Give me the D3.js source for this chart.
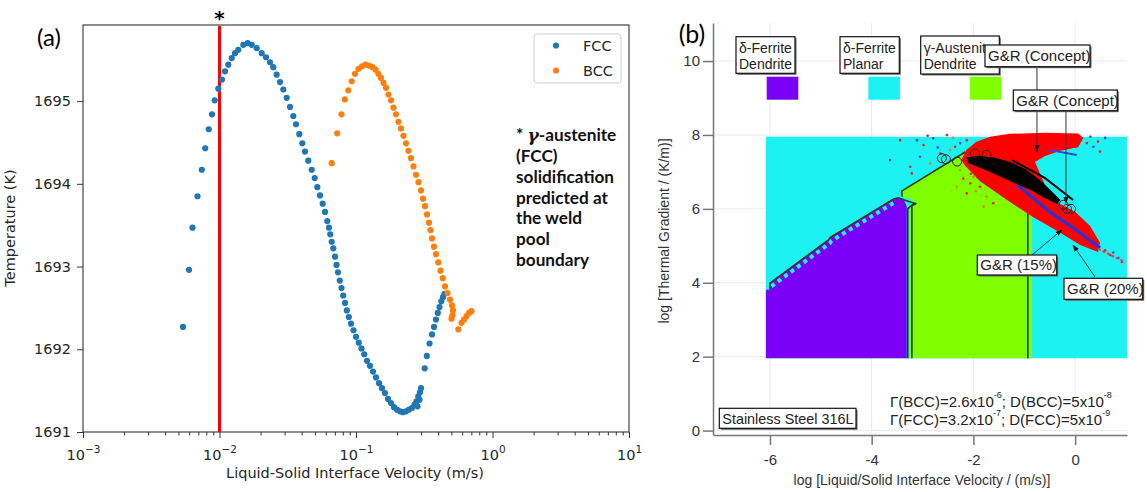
<!DOCTYPE html>
<html>
<head>
<meta charset="utf-8">
<script src="https://cdn.jsdelivr.net/npm/d3@7"></script>
<style>
  body { margin: 0; background: #fff; }
  svg { display: block; }
</style>
</head>
<body>
<div id="chart"></div>
<script>
// ---------- panel (a) data : velocity (m/s) and temperature (K) ----------
const fccVelocity = [0.0054, 0.00598, 0.00634, 0.0069, 0.00742, 0.00786, 0.00834, 0.00881, 0.00922, 0.0098,
  0.01043, 0.01097, 0.0116, 0.01229, 0.01299, 0.01373, 0.01494, 0.01609, 0.01722, 0.01873,
  0.02038, 0.02191, 0.02344, 0.02478, 0.02624, 0.02775, 0.02934, 0.03107, 0.03285, 0.03473,
  0.03635, 0.03843, 0.04043, 0.04231, 0.04473, 0.04738, 0.04983, 0.05207, 0.0545, 0.05702,
  0.05928, 0.06162, 0.06342, 0.06482, 0.06637, 0.06819, 0.0702, 0.072, 0.0738, 0.0761,
  0.0783, 0.0806, 0.0831, 0.0856, 0.0886, 0.0919, 0.0959, 0.1, 0.1048, 0.1097,
  0.115, 0.1204, 0.1266, 0.1332, 0.1401, 0.1474, 0.155, 0.1631, 0.1715, 0.1805,
  0.1898, 0.1997, 0.21, 0.2209, 0.2324, 0.2445, 0.2572, 0.2683, 0.2822, 0.2775,
  0.2919, 0.286, 0.2944, 0.2994, 0.3187, 0.3302, 0.3456, 0.3605, 0.3728, 0.3856,
  0.3975, 0.409, 0.4216, 0.4339, 0.445];
const fccTemp = [1692.27, 1692.96, 1693.47, 1693.85, 1694.17, 1694.43, 1694.66, 1694.84, 1695.01, 1695.15,
  1695.26, 1695.36, 1695.44, 1695.52, 1695.58, 1695.62, 1695.68, 1695.70, 1695.68, 1695.64,
  1695.58, 1695.53, 1695.47, 1695.41, 1695.32, 1695.23, 1695.14, 1695.04, 1694.93, 1694.82,
  1694.72, 1694.60, 1694.49, 1694.39, 1694.28, 1694.17, 1694.07, 1693.96, 1693.86, 1693.76,
  1693.66, 1693.55, 1693.47, 1693.39, 1693.30, 1693.22, 1693.12, 1693.02, 1692.93, 1692.83,
  1692.74, 1692.65, 1692.56, 1692.47, 1692.39, 1692.31, 1692.23, 1692.15, 1692.08, 1692.01,
  1691.94, 1691.86, 1691.80, 1691.73, 1691.66, 1691.59, 1691.53, 1691.47, 1691.40, 1691.35,
  1691.30, 1691.27, 1691.25, 1691.24, 1691.25, 1691.27, 1691.29, 1691.33, 1691.31, 1691.37,
  1691.39, 1691.43, 1691.48, 1691.53, 1691.77, 1691.92, 1692.07, 1692.18, 1692.27, 1692.36,
  1692.44, 1692.51, 1692.58, 1692.63, 1692.67];

const bccVelocity = [0.0664, 0.0728, 0.0783, 0.0828, 0.0878, 0.093, 0.0983, 0.1043, 0.1107, 0.1174,
  0.1245, 0.1321, 0.139, 0.1457, 0.1525, 0.1591, 0.1659, 0.173, 0.1805, 0.1882,
  0.1963, 0.2048, 0.2136, 0.2228, 0.2324, 0.2424, 0.2529, 0.2638, 0.2752, 0.287,
  0.2994, 0.3096, 0.3202, 0.3312, 0.3426, 0.3514, 0.3605, 0.3728, 0.3856, 0.4008,
  0.4159, 0.4325, 0.4487, 0.4681, 0.4882, 0.505, 0.5136, 0.5093, 0.5007, 0.5617,
  0.5929, 0.6184, 0.645, 0.6728, 0.7019];
const bccTemp = [1694.25, 1694.61, 1694.84, 1695.02, 1695.13, 1695.24, 1695.33, 1695.39, 1695.42, 1695.44,
  1695.43, 1695.41, 1695.38, 1695.33, 1695.28, 1695.22, 1695.16, 1695.08, 1695.01, 1694.92,
  1694.84, 1694.75, 1694.67, 1694.58, 1694.49, 1694.40, 1694.31, 1694.21, 1694.11, 1694.02,
  1693.92, 1693.82, 1693.73, 1693.63, 1693.53, 1693.44, 1693.34, 1693.24, 1693.15, 1693.05,
  1692.95, 1692.86, 1692.76, 1692.68, 1692.60, 1692.53, 1692.47, 1692.41, 1692.37, 1692.24,
  1692.32, 1692.36, 1692.40, 1692.44, 1692.46];

const boundaryVelocity = 0.01;   // red line: weld pool boundary
const tempTicks = [1691, 1692, 1693, 1694, 1695];
const velTicks = [1e-3, 1e-2, 1e-1, 1, 10];
const velTickExp = ["\u22123", "\u22122", "\u22121", "0", "1"];
const noteLines = ["(FCC)", "solidification", "predicted at", "the weld", "pool", "boundary"];

// ---------- panel (b) data : log10 velocity, log10 gradient ----------
const planarRegion = [[-6.08, 1.96], [1.02, 1.96], [1.02, 7.95], [-6.08, 7.95]];
const ferriteDendriteRegion = [[-6.08, 1.96], [-6.08, 3.81], [-6.0, 3.81], [-6.0, 3.99], [-4.85, 5.16], [-4.82, 5.22],
  [-3.57, 6.26], [-3.47, 6.29], [-3.36, 6.22], [-3.31, 6.06], [-3.31, 1.96]];
const ferriteEdge = [[-6.0, 3.81], [-6.0, 3.99], [-4.85, 5.16], [-4.82, 5.22], [-3.57, 6.27], [-3.47, 6.30],
  [-3.36, 6.24], [-3.16, 6.15], [-3.24, 6.07], [-3.29, 6.0], [-3.29, 1.96]];
const ferriteSteps = [[-6.0, 3.99], [-4.85, 5.16], [-4.82, 5.22], [-3.57, 6.27]];
const austeniteRegion = [[-3.26, 1.96], [-3.26, 6.08], [-3.13, 6.16], [-3.24, 6.27], [-3.40, 6.32], [-3.42, 6.48],
  [-2.16, 7.54], [-1.47, 7.60], [-0.88, 6.51], [-0.85, 6.3], [-0.85, 1.96]];
const austeniteEdgeLeft = [[-3.21, 1.96], [-3.21, 6.08], [-3.12, 6.15]];
const austeniteEdgeTop = [[-3.40, 6.33], [-3.41, 6.48], [-2.16, 7.54]];
const austeniteEdgeRight = [[-0.93, 1.96], [-0.93, 6.35]];

const redCloud = [[-2.24, 7.32], [-2.14, 7.59], [-1.95, 7.81], [-1.67, 7.95], [-1.28, 8.03], [-0.59, 8.06], [0.06, 8.04],
  [0.16, 7.92], [0.06, 7.67], [-0.29, 7.57], [-0.59, 7.43], [-0.79, 7.27], [-0.59, 6.64], [-0.33, 6.16], [0, 5.92],
  [0.29, 5.54], [0.49, 5.08], [0.45, 4.83], [0.10, 5.02], [-0.35, 5.40], [-0.83, 5.78], [-1.34, 6.24], [-1.87, 6.75], [-2.16, 7.16]];
const blackBand = [[-2.14, 7.40], [-1.87, 7.43], [-1.57, 7.38], [-1.28, 7.27], [-0.98, 7.08], [-0.69, 6.78], [-0.45, 6.46],
  [-0.29, 6.24], [-0.35, 6.13], [-0.59, 6.29], [-0.88, 6.51], [-1.24, 6.73], [-1.57, 6.94], [-1.87, 7.11], [-2.10, 7.24]];
const blackStreak = [[-1.24, 7.32], [-0.59, 6.83], [-0.04, 6.24]];
const blueStreak = [[-1.14, 6.65], [-0.5, 5.92], [0.0, 5.45], [0.49, 4.94]];
const blueStreakTop = [[-0.49, 7.59], [0.03, 7.46]];
const streakTail = [[0.45, 4.92], [0.98, 4.56]];
const openCircles = [[-2.62, 7.37], [-2.54, 7.34], [-2.32, 7.28], [-1.97, 7.50], [-1.74, 7.46], [-0.23, 6.11], [-0.16, 6.0], [-0.08, 6.0]];
const scatterDots = [[-3.11, 7.86, "b"], [-2.98, 7.73, "r"], [-2.79, 7.91, "b"], [-2.52, 8.0, "r"], [-2.46, 7.59, "o"],
  [-2.26, 7.78, "b"], [-2.13, 7.86, "r"], [-2.65, 7.5, "r"], [-2.85, 7.23, "o"], [-3.21, 6.96, "r"], [-2.36, 7.68, "r"],
  [-2.0, 6.87, "o"], [-1.87, 6.6, "r"], [-1.74, 6.33, "o"], [-2.06, 6.69, "r"], [-1.93, 7.05, "o"], [-1.7, 6.96, "r"],
  [-1.54, 6.51, "o"], [-2.26, 7.05, "o"], [-2.13, 6.42, "r"], [-2.33, 6.6, "o"], [-1.8, 6.06, "o"], [-1.61, 6.15, "r"],
  [0.10, 7.86, "b"], [0.23, 7.78, "r"], [0.36, 7.68, "b"], [0.49, 7.55, "r"], [0.59, 7.92, "b"], [-3.05, 7.41, "b"],
  [-3.24, 7.14, "r"], [0.69, 4.75, "r"], [0.85, 4.67, "b"], [0.59, 4.88, "r"], [0.92, 4.56, "r"], [-3.44, 7.86, "r"],
  [-3.64, 7.32, "b"], [-2.9, 7.98, "r"], [-2.7, 7.66, "b"], [-2.4, 7.92, "o"], [-2.05, 6.95, "r"], [-1.95, 6.48, "o"],
  [-2.2, 6.82, "r"], [-1.66, 6.72, "o"], [0.3, 7.95, "b"], [0.45, 7.82, "r"], [0.75, 4.82, "b"]];
const leaderConcept1 = [[-0.75, 9.85], [-0.75, 7.55]];
const leaderConcept2 = [[-0.18, 8.66], [-0.18, 6.15]];
const leader15 = [[-0.85, 4.75], [-0.26, 5.43]];
const leader20 = [[0.39, 4.16], [-0.04, 5.02]];
const gradTicks = [0, 2, 4, 6, 8, 10];
const logVTicks = [-6, -4, -2, 0];

const width = 1147, height = 492;
const svg = d3.select("#chart").append("svg")
    .attr("width", width).attr("height", height);

// =================== panel (a) ===================
const A = {left: 83, right: 629, top: 25, bottom: 432};
const xA = d3.scaleLog().domain([1e-3, 10]).range([A.left, A.right]);
const yA = d3.scaleLinear().domain([1691, 1695.92]).range([A.bottom, A.top]);
const gA = svg.append("g");
const fontA = "DejaVu Sans";

// minor ticks (2..9 of each decade)
const minorTicks = xA.ticks().filter(t => Math.abs(Math.log10(t) - Math.round(Math.log10(t))) > 1e-6);
gA.append("g")
    .attr("transform", `translate(0,${A.bottom})`)
    .call(d3.axisBottom(xA).tickValues(minorTicks).tickSize(3.5).tickFormat(""))
    .call(g => g.select(".domain").remove())
    .call(g => g.selectAll("line").attr("stroke", "#333"));

gA.append("g")
    .attr("transform", `translate(0,${A.bottom})`)
    .call(d3.axisBottom(xA).tickValues(velTicks).tickSize(6).tickFormat(""))
    .call(g => g.select(".domain").remove())
    .call(g => g.selectAll("line").attr("stroke", "#333"))
    .call(g => g.selectAll(".tick").each(function(d, i) {
        const t = d3.select(this).append("text")
            .attr("y", 28).attr("fill", "#262626")
            .attr("font-family", fontA).attr("font-size", 14.5).attr("text-anchor", "middle");
        t.append("tspan").text("10");
        t.append("tspan").attr("dy", -7).attr("font-size", 10.5).text(velTickExp[i]);
    }));

gA.append("g")
    .attr("transform", `translate(${A.left},0)`)
    .call(d3.axisLeft(yA).tickValues(tempTicks).tickSize(6).tickPadding(6).tickFormat(d3.format("d")))
    .call(g => g.select(".domain").remove())
    .call(g => g.selectAll("line").attr("stroke", "#333"))
    .call(g => g.selectAll("text").attr("font-family", fontA).attr("font-size", 14.5).attr("fill", "#262626"));

// frame
gA.append("rect")
    .attr("x", A.left).attr("y", A.top)
    .attr("width", A.right - A.left).attr("height", A.bottom - A.top)
    .attr("fill", "none").attr("stroke", "#333").attr("stroke-width", 1.1);

// boundary line
gA.append("line")
    .attr("x1", xA(boundaryVelocity)).attr("x2", xA(boundaryVelocity))
    .attr("y1", A.top + 1).attr("y2", A.bottom)
    .attr("stroke", "#ff0000").attr("stroke-width", 3);
gA.append("text")
    .attr("x", xA(boundaryVelocity)).attr("y", 25)
    .attr("text-anchor", "middle").attr("font-family", fontA).attr("font-weight", "bold")
    .attr("font-size", 20).text("*");

// scatter
const fccData = fccVelocity.map((v, i) => ({v, t: fccTemp[i]}));
const bccData = bccVelocity.map((v, i) => ({v, t: bccTemp[i]}));
gA.append("g").selectAll("circle").data(fccData).join("circle")
    .attr("cx", d => xA(d.v)).attr("cy", d => yA(d.t)).attr("r", 3.1).attr("fill", "#1f77b4");
gA.append("g").selectAll("circle").data(bccData).join("circle")
    .attr("cx", d => xA(d.v)).attr("cy", d => yA(d.t)).attr("r", 3.1).attr("fill", "#ff7f0e");

// legend
const legA = gA.append("g");
legA.append("rect").attr("x", 534).attr("y", 34).attr("width", 87).attr("height", 49).attr("rx", 3)
    .attr("fill", "#fff").attr("stroke", "#d0d0d0");
[["FCC", "#1f77b4"], ["BCC", "#ff7f0e"]].forEach(([name, col], i) => {
    legA.append("circle").attr("cx", 556).attr("cy", 45.5 + i * 25).attr("r", 3.1).attr("fill", col);
    legA.append("text").attr("x", 583).attr("y", 50.5 + i * 25)
        .attr("font-family", fontA).attr("font-size", 14.5).attr("fill", "#262626").text(name);
});

// axis labels
gA.append("text").attr("x", 355).attr("y", 478).attr("text-anchor", "middle")
    .attr("font-family", fontA).attr("font-size", 14.5).attr("fill", "#262626")
    .text("Liquid-Solid Interface Velocity (m/s)");
gA.append("text").attr("transform", "translate(15,228) rotate(-90)").attr("text-anchor", "middle")
    .attr("font-family", fontA).attr("font-size", 14.5).attr("fill", "#262626")
    .text("Temperature (K)");
gA.append("text").attr("x", 49).attr("y", 46).attr("text-anchor", "middle")
    .attr("font-family", "Lato").attr("font-size", 24).text("(a)");

// note
const note = gA.append("text").attr("font-family", "Lato").attr("font-weight", "bold")
    .attr("font-size", 17.2).attr("fill", "#111");
const first = note.append("tspan").attr("x", 516).attr("y", 141);
first.append("tspan").text("* ");
first.append("tspan").attr("font-style", "italic").attr("font-family", "DejaVu Serif").text("\u03b3");
first.append("tspan").text("-austenite");
noteLines.forEach((s, i) => note.append("tspan").attr("x", 516).attr("y", 162 + i * 20.8).text(s));

// =================== panel (b) ===================
const B = {left: 713, right: 1127, top: 23, bottom: 435};
const xB = d3.scaleLinear().domain([-7.12, 1.02]).range([B.left, B.right]);
const yB = d3.scaleLinear().domain([-0.12, 11.03]).range([B.bottom, B.top]);
const gB = svg.append("g");
const fontB = "Liberation Sans";
const line = d3.line().x(d => xB(d[0])).y(d => yB(d[1]));
const area = d => line(d) + "Z";

// grid
gB.append("g").selectAll("line").data(gradTicks).join("line")
    .attr("x1", B.left).attr("x2", B.right).attr("y1", d => yB(d)).attr("y2", d => yB(d))
    .attr("stroke", "#e9e9f6").attr("stroke-width", 1);
gB.append("g").selectAll("line").data(logVTicks).join("line")
    .attr("x1", d => xB(d)).attr("x2", d => xB(d)).attr("y1", B.top).attr("y2", B.bottom)
    .attr("stroke", "#e9e9f6").attr("stroke-width", 1);

// regions
const cCyan = "#1cf2f2", cPurple = "#7a00f8", cGreen = "#80ff00", cEdge = "#1b3d1b";
gB.append("path").attr("d", area(planarRegion)).attr("fill", cCyan);
gB.append("path").attr("d", area(ferriteDendriteRegion)).attr("fill", cPurple);
gB.append("path").attr("d", line(ferriteSteps)).attr("fill", "none")
    .attr("stroke", cCyan).attr("stroke-width", 4).attr("stroke-dasharray", "4 4")
    .attr("transform", "translate(1.5,3.2)");
gB.append("path").attr("d", area(austeniteRegion)).attr("fill", cGreen);
[ferriteEdge, austeniteEdgeLeft, austeniteEdgeTop, austeniteEdgeRight].forEach(p =>
    gB.append("path").attr("d", line(p)).attr("fill", "none").attr("stroke", cEdge).attr("stroke-width", 1.6));

// simulated points
const dotCol = {r: "#ff1a1a", b: "#3344ee", o: "#e0802a"};
gB.append("g").selectAll("circle").data(scatterDots).join("circle")
    .attr("cx", d => xB(d[0])).attr("cy", d => yB(d[1])).attr("r", 1.3).attr("fill", d => dotCol[d[2]]);
gB.append("path").attr("d", area(redCloud)).attr("fill", "#ff0000");
gB.append("path").attr("d", line(blueStreak)).attr("fill", "none").attr("stroke", "#2233dd").attr("stroke-width", 3);
gB.append("path").attr("d", line(blueStreakTop)).attr("fill", "none").attr("stroke", "#3344ee").attr("stroke-width", 2);
gB.append("path").attr("d", line(streakTail)).attr("fill", "none").attr("stroke", "#e23a5a")
    .attr("stroke-width", 2).attr("stroke-dasharray", "3 2");
gB.append("path").attr("d", area(blackBand)).attr("fill", "#000");
gB.append("path").attr("d", line(blackStreak)).attr("fill", "none").attr("stroke", "#000").attr("stroke-width", 2);
gB.append("g").selectAll("circle").data(openCircles).join("circle")
    .attr("cx", d => xB(d[0])).attr("cy", d => yB(d[1])).attr("r", 4.5)
    .attr("fill", "none").attr("stroke", "#222").attr("stroke-width", 1);

// axes
gB.append("g")
    .attr("transform", `translate(${B.left},0)`)
    .call(d3.axisLeft(yB).tickValues(gradTicks).tickSize(10).tickSizeOuter(0).tickPadding(3).tickFormat(d => d))
    .call(g => g.selectAll("path,line").attr("stroke", "#777").attr("stroke-width", 1.5))
    .call(g => g.selectAll("text").attr("font-family", fontB).attr("font-size", 15).attr("fill", "#333"));
gB.append("g")
    .attr("transform", `translate(0,${B.bottom})`)
    .call(d3.axisBottom(xB).tickValues(logVTicks).tickSize(10).tickSizeOuter(0).tickPadding(9).tickFormat(d => String(d)))
    .call(g => g.selectAll("path,line").attr("stroke", "#777").attr("stroke-width", 1.5))
    .call(g => g.selectAll("text").attr("font-family", fontB).attr("font-size", 15).attr("fill", "#333"));

gB.append("text").attr("x", 922).attr("y", 485).attr("text-anchor", "middle")
    .attr("font-family", fontB).attr("font-size", 14).attr("fill", "#333")
    .text("log [Liquid/Solid Interface Velocity / (m/s)]");
gB.append("text").attr("transform", "translate(669,231) rotate(-90)").attr("text-anchor", "middle")
    .attr("font-family", fontB).attr("font-size", 14).attr("fill", "#333")
    .text("log [Thermal Gradient / (K/m)]");
gB.append("text").attr("x", 692).attr("y", 43).attr("text-anchor", "middle")
    .attr("font-family", "Lato").attr("font-size", 25).text("(b)");

// arrow marker
svg.append("defs").append("marker").attr("id", "arr")
    .attr("viewBox", "0 0 10 10").attr("refX", 9).attr("refY", 5)
    .attr("markerWidth", 7).attr("markerHeight", 7).attr("orient", "auto")
    .append("path").attr("d", "M0,1.5L10,5L0,8.5Z").attr("fill", "#111");
[leaderConcept1, leaderConcept2, leader15, leader20].forEach(p =>
    gB.append("path").attr("d", line(p)).attr("fill", "none").attr("stroke", "#333")
      .attr("stroke-width", 1).attr("marker-end", "url(#arr)"));

// label boxes
function labelBox(x, y, w, h, lines, base, step, size) {
    const g = gB.append("g");
    g.append("rect").attr("x", x + 1.5).attr("y", y + 1.5).attr("width", w).attr("height", h).attr("fill", "#666");
    g.append("rect").attr("x", x).attr("y", y).attr("width", w).attr("height", h)
        .attr("fill", "#fff").attr("stroke", "#111").attr("stroke-width", 1.2);
    lines.forEach((s, i) => g.append("text").attr("x", x + 3).attr("y", base + i * step)
        .attr("font-family", fontB).attr("font-size", size).attr("fill", "#222").text(s));
}
labelBox(736, 36.7, 59, 36.6, ["\u03b4-Ferrite", "Dendrite"], 53, 15.5, 14);
labelBox(840, 36.7, 59.3, 36.6, ["\u03b4-Ferrite", "Planar"], 53, 15.5, 14);
labelBox(920.7, 36, 78.6, 38, ["\u03b3-Austenite", "Dendrite"], 53, 15.5, 14);
labelBox(985, 45, 105, 21.7, ["G&R (Concept)"], 61, 0, 15);
labelBox(1013.3, 90, 104, 20.7, ["G&R (Concept)"], 105.5, 0, 15);
labelBox(977.3, 255, 79.4, 20, ["G&R (15%)"], 270, 0, 15);
labelBox(1064, 278.3, 78.7, 21, ["G&R (20%)"], 293.5, 0, 15);
labelBox(719.3, 408.3, 136.7, 20, ["Stainless Steel 316L"], 423.5, 0, 14.4);

// swatches
[[766.7, cPurple], [868.3, cCyan], [970, cGreen]].forEach(([x, c]) =>
    gB.append("rect").attr("x", x).attr("y", 76.7).attr("width", 31.6).attr("height", 23).attr("fill", c));

// parameters
const paramLines = [["\u0393(BCC)=2.6x10", "-6", "; D(BCC)=5x10", "-8"],
                    ["\u0393(FCC)=3.2x10", "-7", "; D(FCC)=5x10", "-9"]];
paramLines.forEach((p, i) => {
    const t = gB.append("text").attr("x", 890).attr("y", 406.5 + i * 18.5)
        .attr("font-family", fontB).attr("font-size", 15).attr("fill", "#222");
    t.append("tspan").text(p[0]);
    t.append("tspan").attr("dy", -9).attr("font-size", 9).text(p[1]);
    t.append("tspan").attr("dy", 9).text(p[2]);
    t.append("tspan").attr("dy", -9).attr("font-size", 9).text(p[3]);
});
</script>
</body>
</html>
